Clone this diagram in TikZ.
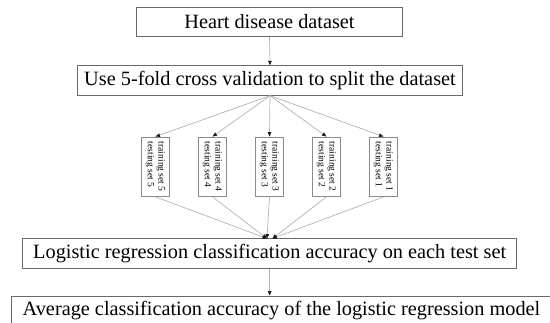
\documentclass[tikz,border=0pt]{standalone}
\usepackage{fontspec}
\setmainfont{Liberation Serif}
\usetikzlibrary{arrows.meta}
\definecolor{boxline}{HTML}{6A6A6A}
\definecolor{foldline}{HTML}{8A8A8A}
\definecolor{edgeline}{HTML}{B4B4B4}
\definecolor{tipcol}{HTML}{1A1A1A}
\tikzset{
  bigbox/.style={draw=boxline, line width=0.9pt, inner sep=0pt,
    minimum height=29.5pt, font=\fontsize{20.3}{24}\selectfont},
  foldbox/.style={draw=foldline, line width=0.8pt, inner sep=0pt,
    minimum width=27.5pt, minimum height=59.5pt,
    font=\fontsize{9.5}{10.8}\selectfont},
  flow/.style={draw=edgeline, line width=0.7pt,
    -{Triangle[length=4.5pt,width=3.6pt,color=tipcol]}},
}
\newcommand{\foldtext}[1]{\rotatebox{-90}{\begin{tabular}{@{}l@{}}training set #1\\testing set #1\end{tabular}}}
\begin{document}
\begin{tikzpicture}[x=1pt,y=-1pt]
  \useasboundingbox (0,0) rectangle (550,323);
  \clip (0,0) rectangle (550,323);
  \fill[white] (0,0) rectangle (550,323);

  % top of the pipeline
  \node[bigbox, minimum width=265.6pt] (heart) at (269.5,22) {Heart disease dataset};
  \node[bigbox, minimum width=385.4pt] (split) at (270,80.5) {Use 5-fold cross validation to split the dataset};

  % the five folds
  \node[foldbox] (f5) at (155.5,166.75) {\foldtext{5}};
  \node[foldbox] (f4) at (212.5,166.75) {\foldtext{4}};
  \node[foldbox] (f3) at (269.5,166.75) {\foldtext{3}};
  \node[foldbox] (f2) at (326.5,166.75) {\foldtext{2}};
  \node[foldbox] (f1) at (383.5,166.75) {\foldtext{1}};

  % evaluation
  \node[bigbox, minimum width=494pt] (acc) at (269.7,253.7) {Logistic regression classification accuracy on each test set};
  \node[bigbox, minimum width=540pt] (avg) at (281.5,310.8) {Average classification accuracy of the logistic regression model};

  \coordinate (inL) at ([xshift=-2.7pt]acc.north);
  \coordinate (inR) at ([xshift=2.7pt]acc.north);

  \draw[flow] (heart.south) -- (split.north);
  \foreach \f in {f1,f2,f3,f4,f5} {
    \draw[flow] (split.south) -- (\f.north);
  }
  \draw[flow] (f5.south) -- (inL);
  \draw[flow] (f4.south) -- (inL);
  \draw[flow] (f3.south) -- (inL);
  \draw[flow] (f2.south) -- (inR);
  \draw[flow] (f1.south) -- (inR);
  \draw[flow] (acc.south) -- (acc.south |- avg.north);
\end{tikzpicture}
\end{document}
